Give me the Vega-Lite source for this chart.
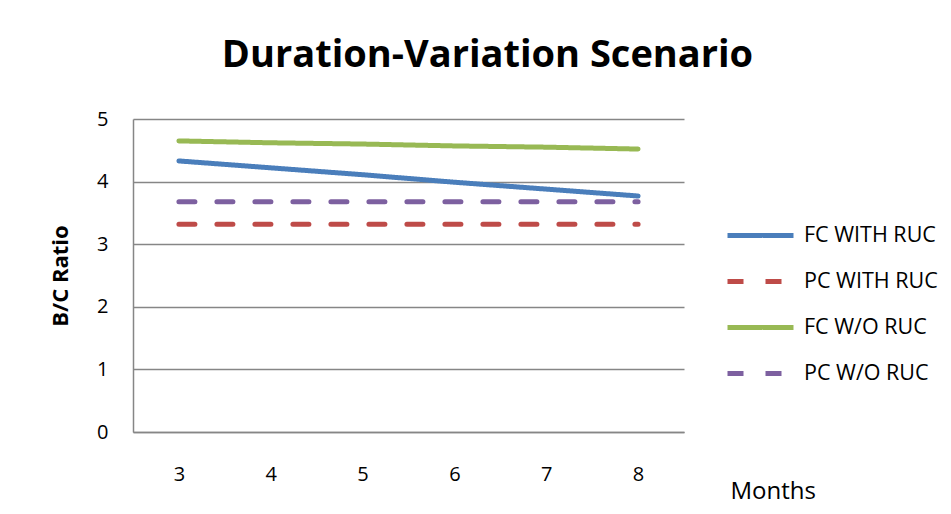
{
  "$schema": "https://vega.github.io/schema/vega-lite/v6.json",
  "autosize": {"type": "none"},
  "padding": {"left": 133, "top": 119, "right": 267, "bottom": 82},
  "width": 551,
  "height": 313,
  "background": "white",
  "title": {
    "text": "Duration-Variation Scenario",
    "font": "Open Sans",
    "fontSize": 38,
    "fontWeight": "bold",
    "color": "#000000",
    "anchor": "middle",
    "frame": "group",
    "baseline": "alphabetic",
    "dx": 79,
    "offset": 4
  },
  "data": {
    "values": [
      {"month": "3", "series": "FC WITH RUC", "ratio": 4.33},
      {"month": "4", "series": "FC WITH RUC", "ratio": 4.22},
      {"month": "5", "series": "FC WITH RUC", "ratio": 4.11},
      {"month": "6", "series": "FC WITH RUC", "ratio": 3.99},
      {"month": "7", "series": "FC WITH RUC", "ratio": 3.88},
      {"month": "8", "series": "FC WITH RUC", "ratio": 3.77},
      {"month": "3", "series": "PC WITH RUC", "ratio": 3.32},
      {"month": "4", "series": "PC WITH RUC", "ratio": 3.32},
      {"month": "5", "series": "PC WITH RUC", "ratio": 3.32},
      {"month": "6", "series": "PC WITH RUC", "ratio": 3.32},
      {"month": "7", "series": "PC WITH RUC", "ratio": 3.32},
      {"month": "8", "series": "PC WITH RUC", "ratio": 3.32},
      {"month": "3", "series": "FC W/O RUC", "ratio": 4.65},
      {"month": "4", "series": "FC W/O RUC", "ratio": 4.62},
      {"month": "5", "series": "FC W/O RUC", "ratio": 4.6},
      {"month": "6", "series": "FC W/O RUC", "ratio": 4.57},
      {"month": "7", "series": "FC W/O RUC", "ratio": 4.55},
      {"month": "8", "series": "FC W/O RUC", "ratio": 4.52},
      {"month": "3", "series": "PC W/O RUC", "ratio": 3.68},
      {"month": "4", "series": "PC W/O RUC", "ratio": 3.68},
      {"month": "5", "series": "PC W/O RUC", "ratio": 3.68},
      {"month": "6", "series": "PC W/O RUC", "ratio": 3.68},
      {"month": "7", "series": "PC W/O RUC", "ratio": 3.68},
      {"month": "8", "series": "PC W/O RUC", "ratio": 3.68}
    ]
  },
  "mark": {"type": "line", "strokeWidth": 5, "strokeCap": "round"},
  "encoding": {
    "x": {
      "field": "month",
      "type": "ordinal",
      "sort": ["3", "4", "5", "6", "7", "8"],
      "scale": {"type": "point", "padding": 0.5},
      "axis": {
        "title": "Months",
        "titleFont": "Open Sans",
        "titleFontSize": 24,
        "titleFontWeight": "normal",
        "titleColor": "#000000",
        "titleAnchor": "start",
        "titleAlign": "left",
        "titleBaseline": "alphabetic",
        "titleX": 597,
        "titleY": 66,
        "labelAngle": 0,
        "labelFont": "Open Sans",
        "labelFontSize": 20,
        "labelColor": "#000000",
        "labelPadding": 32,
        "ticks": false,
        "domainColor": "#868686",
        "domainWidth": 1.5,
        "grid": false
      }
    },
    "y": {
      "field": "ratio",
      "type": "quantitative",
      "scale": {"domain": [0, 5], "nice": false},
      "axis": {
        "title": "B/C Ratio",
        "titleFont": "Open Sans",
        "titleFontSize": 22,
        "titleFontWeight": "bold",
        "titleColor": "#000000",
        "titlePadding": 24,
        "values": [0, 1, 2, 3, 4, 5],
        "labelFont": "Open Sans",
        "labelFontSize": 20,
        "labelColor": "#000000",
        "labelPadding": 25,
        "ticks": false,
        "domainColor": "#868686",
        "domainWidth": 1.5,
        "grid": true,
        "gridColor": "#868686",
        "gridWidth": 1.5
      }
    },
    "color": {
      "field": "series",
      "type": "nominal",
      "scale": {
        "domain": ["FC WITH RUC", "PC WITH RUC", "FC W/O RUC", "PC W/O RUC"],
        "range": ["#4A7EBB", "#BE4B48", "#98B954", "#7D60A0"]
      },
      "legend": {
        "title": null,
        "orient": "none",
        "legendX": 592,
        "legendY": 81,
        "symbolType": "stroke",
        "symbolSize": 4356,
        "symbolStrokeWidth": 5,
        "labelFont": "Open Sans",
        "labelFontSize": 21.5,
        "labelColor": "#000000",
        "labelOffset": 8,
        "rowPadding": -3
      }
    },
    "strokeDash": {
      "field": "series",
      "type": "nominal",
      "scale": {
        "domain": ["FC WITH RUC", "PC WITH RUC", "FC W/O RUC", "PC W/O RUC"],
        "range": [[1, 0], [16, 22], [1, 0], [16, 22]]
      },
      "legend": {
        "title": null,
        "orient": "none",
        "legendX": 592,
        "legendY": 81,
        "symbolType": "stroke",
        "symbolSize": 4356,
        "symbolStrokeWidth": 5,
        "labelFont": "Open Sans",
        "labelFontSize": 21.5,
        "labelColor": "#000000",
        "labelOffset": 8,
        "rowPadding": -3
      }
    }
  },
  "config": {
    "view": {"stroke": null},
    "line": {"strokeCap": "round"}
  }
}
